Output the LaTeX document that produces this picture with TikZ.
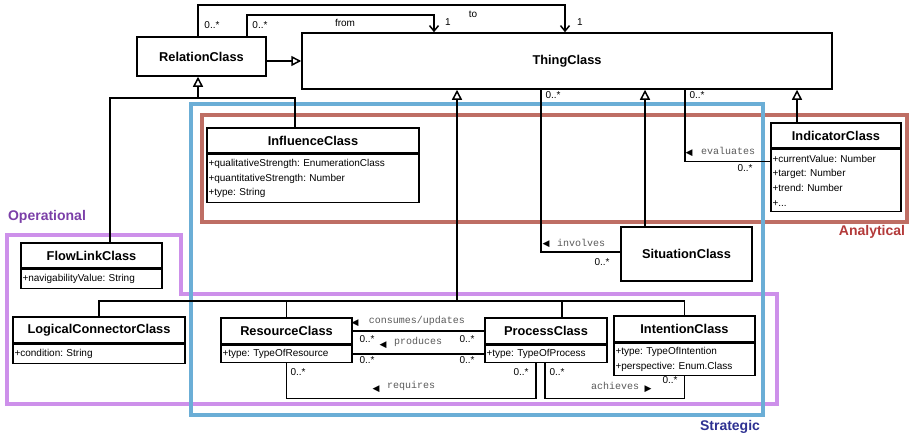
\documentclass[tikz,border=0pt]{standalone}
\usepackage{fontspec}
\setmainfont{Liberation Sans}
\setmonofont{Liberation Mono}
\newfontfamily\arrowfont{DejaVu Sans}
\usetikzlibrary{arrows.meta,positioning}
\frenchspacing

\definecolor{stratblue}{HTML}{6BAED6}
\definecolor{analred}{HTML}{BE6E64}
\definecolor{operpurple}{HTML}{CD90EA}
\definecolor{stratlabel}{HTML}{2E3192}
\definecolor{anallabel}{HTML}{B33A3A}
\definecolor{operlabel}{HTML}{7B3FA8}

\begin{document}
\begin{tikzpicture}[x=1pt,y=-1pt,
  cls/.style={draw=black,line width=1.5pt,fill=white,inner sep=0pt,
    font=\fontsize{12.8}{14}\selectfont\bfseries},
  attrs/.style={draw=black,line width=1.5pt,fill=white,align=left,
    inner xsep=1.5pt,inner ysep=0pt,font=\fontsize{10}{14.6}\selectfont},
  line/.style={draw=black,line width=1.5pt},
  inherit/.style={line,-{Triangle[open,length=10pt,width=10pt]}},
  assoc/.style={line,-{Straight Barb[length=5.5pt,width=9pt]}},
  mult/.style={font=\fontsize{10}{12}\selectfont,inner sep=0pt},
  role/.style={font=\ttfamily\fontsize{10}{12}\selectfont,text=black!65,inner sep=0pt},
  dirtri/.style={font=\arrowfont\fontsize{9}{10}\selectfont,inner sep=0pt},
  region/.style={line width=4.5pt},
  regionlbl/.style={font=\fontsize{14}{16}\selectfont\bfseries,inner sep=0pt}]
\useasboundingbox (0,0) rectangle (912,436);

% viewpoint regions
\draw[region,operpurple] (7,235) -- (181,235) -- (181,294) -- (777,294) -- (777,404) -- (7,404) -- cycle;
\draw[region,analred] (202,115) rectangle (907,222);
\draw[region,stratblue] (191,104) rectangle (763,415);
\node[regionlbl,text=operlabel] (operational) at (47,217) {Operational};
\node[regionlbl,text=anallabel] (analytical) at (872,232) {Analytical};
\node[regionlbl,text=stratlabel] (strategic) at (730,427) {Strategic};

% classes
\node[cls,minimum width=530pt,minimum height=56pt] (thing) at (567,61) {ThingClass};
\node[cls,minimum width=129pt,minimum height=39pt] (relation) at (201.5,56.5) {RelationClass};

\node[cls,minimum width=212pt,minimum height=25pt] (influence) at (313,140.5) {InfluenceClass};
\node[attrs,minimum width=212pt,minimum height=48pt,text width=209pt,below=0pt of influence] (influence-a)
  {+qualitativeStrength: EnumerationClass\\+quantitativeStrength: Number\\+type: String};

\node[cls,minimum width=130pt,minimum height=25pt] (indicator) at (836,135.5) {IndicatorClass};
\node[attrs,minimum width=130pt,minimum height=62pt,text width=127pt,below=0pt of indicator] (indicator-a)
  {+currentValue: Number\\+target: Number\\+trend: Number\\+...};

\node[cls,minimum width=131pt,minimum height=54pt] (situation) at (686.5,254) {SituationClass};

\node[cls,minimum width=141pt,minimum height=25pt] (flowlink) at (91.5,255.5) {FlowLinkClass};
\node[attrs,minimum width=141pt,minimum height=19pt,text width=138pt,below=0pt of flowlink] (flowlink-a)
  {+navigabilityValue: String};

\node[cls,minimum width=172pt,minimum height=26pt] (logical) at (99,330) {LogicalConnectorClass};
\node[attrs,minimum width=172pt,minimum height=19pt,text width=169pt,below=0pt of logical] (logical-a)
  {+condition: String};

\node[cls,minimum width=131pt,minimum height=26pt] (resource) at (286.5,331) {ResourceClass};
\node[attrs,minimum width=131pt,minimum height=17pt,text width=128pt,below=0pt of resource] (resource-a)
  {+type: TypeOfResource};

\node[cls,minimum width=122pt,minimum height=26pt] (process) at (546,331) {ProcessClass};
\node[attrs,minimum width=122pt,minimum height=17pt,text width=119pt,below=0pt of process] (process-a)
  {+type: TypeOfProcess};

\node[cls,minimum width=141pt,minimum height=26pt] (intention) at (684.5,329) {IntentionClass};
\node[attrs,minimum width=141pt,minimum height=32pt,text width=138pt,below=0pt of intention] (intention-a)
  {+type: TypeOfIntention\\+perspective: Enum.Class};

% generalisations
\coordinate (relbus) at (198,98);
\coordinate (thingbus) at (457,301);
\coordinate (proc-up) at ([xshift=16]process.north);
\coordinate (sit-up) at ([xshift=-41.5]situation.north);
\coordinate (ind-up) at ([xshift=-39]indicator.north);

\draw[inherit] (thing -| relation.east) -- (thing.west);
\draw[line] ([xshift=18.5]flowlink.north) |- (relbus);
\draw[line] ([xshift=-18]influence.north) |- (relbus);
\draw[inherit] (relbus) -- (relbus |- relation.south);

\draw[line] (logical.north) |- (thingbus);
\draw[line] (intention.north) |- (thingbus);
\draw[line] (resource.north) -- (resource.north |- thingbus);
\draw[line] (proc-up) -- (proc-up |- thingbus);
\draw[inherit] (thingbus) -- (thingbus |- thing.south);
\draw[inherit] (sit-up) -- (sit-up |- thing.south);
\draw[inherit] (ind-up) -- (ind-up |- thing.south);

% associations
\draw[assoc] ([xshift=-3.5]relation.north) -- ++(0,-31) -| ([xshift=-2]thing.north);
\draw[assoc] ([xshift=45.5]relation.north) -- ++(0,-21) -| ([xshift=-133]thing.north);
\node[mult] (to-l) at (473,14) {to};
\node[mult] (from-l) at (345,23) {from};
\node[mult] (to-m1) at (212,25) {0..*};
\node[mult] (from-m1) at (260,25) {0..*};
\node[mult] (from-m2) at (448,22) {1};
\node[mult] (to-m2) at (580,22) {1};

\draw[line] ([yshift=2]situation.west) -| ([xshift=-26]thing.south);
\node[dirtri] (involves-t) at (546,244) {◀};
\node[role] (involves-l) at (581,243) {involves};
\node[mult] (involves-m1) at (553,95) {0..*};
\node[mult] (involves-m2) at (602,262) {0..*};

\draw[line] ([yshift=19]indicator-a.west) -| ([xshift=118]thing.south);
\node[dirtri] (evaluates-t) at (689,153) {◀};
\node[role] (evaluates-l) at (728,151) {evaluates};
\node[mult] (evaluates-m1) at (697,95) {0..*};
\node[mult] (evaluates-m2) at (745,168) {0..*};

\draw[line] (process.west) -- (resource.east);
\node[dirtri] (consumes-t) at (355,323) {◀};
\node[role] (consumes-l) at (417,321) {consumes/updates};

\draw[line] (process-a.west) -- (resource-a.east);
\node[dirtri] (produces-t) at (383,345) {◀};
\node[role] (produces-l) at (418,342) {produces};
\node[mult] (consumes-m1) at (367,339) {0..*};
\node[mult] (consumes-m2) at (467,339) {0..*};
\node[mult] (produces-m1) at (367,360) {0..*};
\node[mult] (produces-m2) at (467,360) {0..*};

\draw[line] (resource-a.south) -- ++(0,35) -| ([xshift=-10]process-a.south);
\node[dirtri] (requires-t) at (376,389) {◀};
\node[role] (requires-l) at (411,386) {requires};
\node[mult] (requires-m1) at (298,372) {0..*};
\node[mult] (requires-m2) at (521,372) {0..*};

\draw[line] ([xshift=-1]process-a.south) -- ++(0,35) -| (intention-a.south);
\node[role] (achieves-l) at (615,386) {achieves};
\node[dirtri] (achieves-t) at (648,389) {▶};
\node[mult] (achieves-m1) at (557,372) {0..*};
\node[mult] (achieves-m2) at (670,380) {0..*};
\end{tikzpicture}
\end{document}
